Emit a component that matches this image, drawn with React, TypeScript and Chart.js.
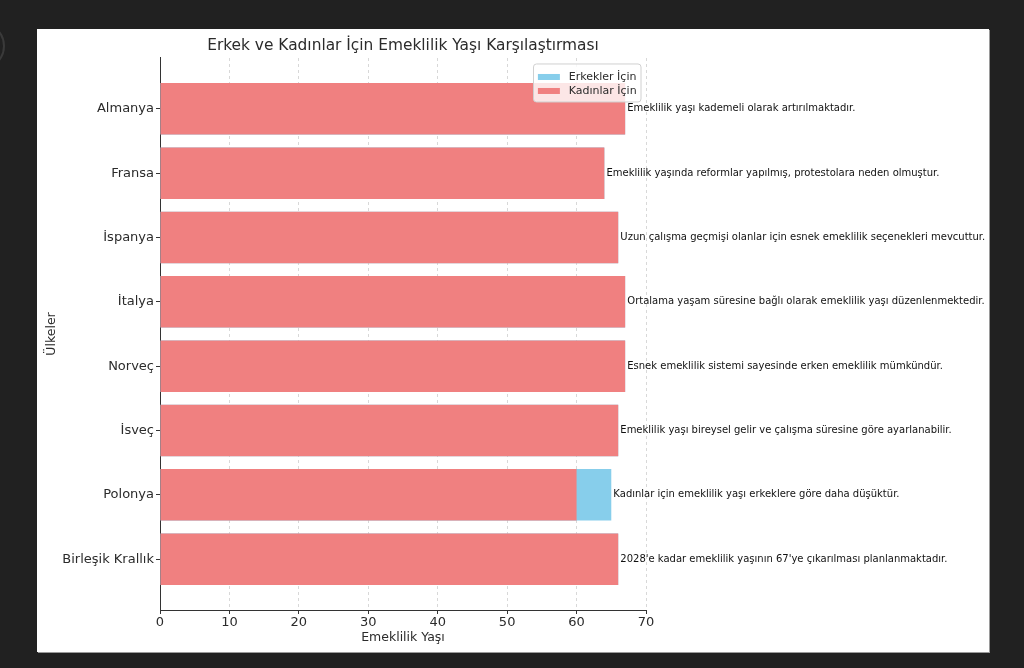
import React, { useEffect, useRef } from "react";
import { Chart, registerables } from "chart.js";

Chart.register(...registerables);

const countries = [
  "Almanya",
  "Fransa",
  "İspanya",
  "İtalya",
  "Norveç",
  "İsveç",
  "Polonya",
  "Birleşik Krallık",
];
const menAges = [67, 64, 66, 67, 67, 66, 65, 66];
const womenAges = [67, 64, 66, 67, 67, 66, 60, 66];
const notes = [
  "Emeklilik yaşı kademeli olarak artırılmaktadır.",
  "Emeklilik yaşında reformlar yapılmış, protestolara neden olmuştur.",
  "Uzun çalışma geçmişi olanlar için esnek emeklilik seçenekleri mevcuttur.",
  "Ortalama yaşam süresine bağlı olarak emeklilik yaşı düzenlenmektedir.",
  "Esnek emeklilik sistemi sayesinde erken emeklilik mümkündür.",
  "Emeklilik yaşı bireysel gelir ve çalışma süresine göre ayarlanabilir.",
  "Kadınlar için emeklilik yaşı erkeklere göre daha düşüktür.",
  "2028'e kadar emeklilik yaşının 67'ye çıkarılması planlanmaktadır.",
];
const seriesLabels = ["Erkekler İçin", "Kadınlar İçin"];
const chartTitle = "Erkek ve Kadınlar İçin Emeklilik Yaşı Karşılaştırması";
const xAxisTitle = "Emeklilik Yaşı";
const yAxisTitle = "Ülkeler";
const xMin = 0;
const xMax = 70;
const xStep = 10;

const FONT = "DejaVu Sans";
const TEXT = "#2b2b2b";
const MEN_COLOR = "#87CEEB";
const WOMEN_COLOR = "#F08080";

const notesPlugin = {
  id: "barNotes",
  afterDatasetsDraw(chart: any) {
    const { ctx } = chart;
    const xs = chart.scales.x;
    const ys = chart.scales.y;
    ctx.save();
    ctx.font = `10px "${FONT}"`;
    ctx.fillStyle = "#111";
    ctx.textAlign = "left";
    ctx.textBaseline = "middle";
    notes.forEach((note, i) => {
      const v = Math.max(menAges[i], womenAges[i]);
      ctx.fillText(note, xs.getPixelForValue(v + 0.3), ys.getPixelForValue(i));
    });
    ctx.restore();
  },
};

const innerLegendPlugin = {
  id: "innerLegend",
  afterDraw(chart: any) {
    const { ctx, chartArea } = chart;
    const ds = chart.data.datasets;
    ctx.save();
    ctx.font = `11px "${FONT}"`;
    const textW = Math.max(...ds.map((d: any) => ctx.measureText(d.label).width));
    const pad = 4.4;
    const handleW = 22;
    const gap = 8.8;
    const rowH = 14;
    const w = pad + handleW + gap + textW + pad;
    const h = 38;
    const x = chartArea.right - 5 - w;
    const y = chartArea.top + 6;
    ctx.beginPath();
    if (ctx.roundRect) ctx.roundRect(x, y, w, h, 3);
    else ctx.rect(x, y, w, h);
    ctx.fillStyle = "rgba(255,255,255,0.8)";
    ctx.fill();
    ctx.strokeStyle = "#d0d0d0";
    ctx.lineWidth = 1;
    ctx.stroke();
    ds.forEach((d: any, i: number) => {
      const cy = y + 13 + rowH * i;
      ctx.fillStyle = d.backgroundColor;
      ctx.fillRect(x + pad, cy - 3, handleW, 6);
      ctx.fillStyle = TEXT;
      ctx.textAlign = "left";
      ctx.textBaseline = "middle";
      ctx.fillText(d.label, x + pad + handleW + gap, cy);
    });
    ctx.restore();
  },
};

export default function App() {
  const canvasRef = useRef<HTMLCanvasElement | null>(null);

  useEffect(() => {
    document.body.style.margin = "0";
    document.body.style.background = "#212121";
    const canvas = canvasRef.current;
    if (!canvas) return;
    const chart = new Chart(canvas, {
      type: "bar",
      data: {
        datasets: [
          {
            label: seriesLabels[0],
            data: countries.map((_, i) => ({ x: menAges[i], y: i })),
            backgroundColor: MEN_COLOR,
            borderWidth: 0,
            grouped: false,
            order: 1,
            barPercentage: 0.8,
            categoryPercentage: 1,
          },
          {
            label: seriesLabels[1],
            data: countries.map((_, i) => ({ x: womenAges[i], y: i })),
            backgroundColor: WOMEN_COLOR,
            borderWidth: 0,
            grouped: false,
            order: 0,
            barPercentage: 0.8,
            categoryPercentage: 1,
          },
        ],
      } as any,
      options: {
        indexAxis: "y",
        responsive: false,
        animation: false,
        layout: { padding: { left: 0, right: 343, top: 0, bottom: 0 } },
        plugins: {
          legend: { display: false },
          tooltip: { enabled: false },
          title: {
            display: true,
            text: chartTitle,
            fullSize: false,
            color: TEXT,
            font: { family: FONT, size: 15.4, weight: "normal", lineHeight: 1.2 },
            padding: { top: 7.8, bottom: 2.7 },
          },
        },
        scales: {
          x: {
            type: "linear",
            min: xMin,
            max: xMax,
            ticks: {
              stepSize: xStep,
              color: TEXT,
              font: { family: FONT, size: 13 },
              padding: 1,
            },
            grid: {
              color: (c: any) => (c.tick && c.tick.value === 0 ? "rgba(0,0,0,0)" : "#d8d8d8"),
              tickColor: "#333",
              tickLength: 4,
              lineWidth: 1,
            },
            border: { color: "#333", width: 1, dash: [3, 3] },
            title: {
              display: true,
              text: xAxisTitle,
              color: TEXT,
              font: { family: FONT, size: 12.5 },
              padding: { top: 0, bottom: 7 },
            },
            afterFit: (s: any) => {
              s.height = 42;
            },
          },
          y: {
            type: "linear",
            reverse: true,
            offset: false,
            min: -0.79,
            max: countries.length - 1 + 0.79,
            afterBuildTicks: (s: any) => {
              s.ticks = countries.map((_, i) => ({ value: i }));
            },
            ticks: {
              callback: (v: any) => countries[v],
              color: TEXT,
              font: { family: FONT, size: 13 },
              padding: 2,
              autoSkip: false,
            },
            grid: {
              offset: false,
              drawOnChartArea: false,
              tickColor: "#333",
              tickLength: 4,
            },
            border: { color: "#333", width: 1 },
            title: {
              display: true,
              text: yAxisTitle,
              color: TEXT,
              font: { family: FONT, size: 12.5 },
              padding: { top: 7.5, bottom: 0 },
            },
            afterFit: (s: any) => {
              s.width = 123;
            },
          },
        },
      } as any,
      plugins: [notesPlugin, innerLegendPlugin],
    });
    return () => chart.destroy();
  }, []);

  return (
    <div style={{ position: "fixed", inset: 0, background: "#212121", overflow: "hidden" }}>
      <div
        style={{
          position: "absolute",
          left: -43,
          top: 22,
          width: 48,
          height: 48,
          borderRadius: "50%",
          border: "2px solid #3a3a3a",
          boxSizing: "border-box",
        }}
      />
      <div
        style={{
          position: "absolute",
          left: 37,
          top: 29,
          width: 952,
          height: 623,
          background: "#ffffff",
          boxShadow: "1px 1px 0 #9a9a9a",
        }}
      >
        <canvas ref={canvasRef} width={952} height={623} style={{ display: "block" }} />
      </div>
    </div>
  );
}
